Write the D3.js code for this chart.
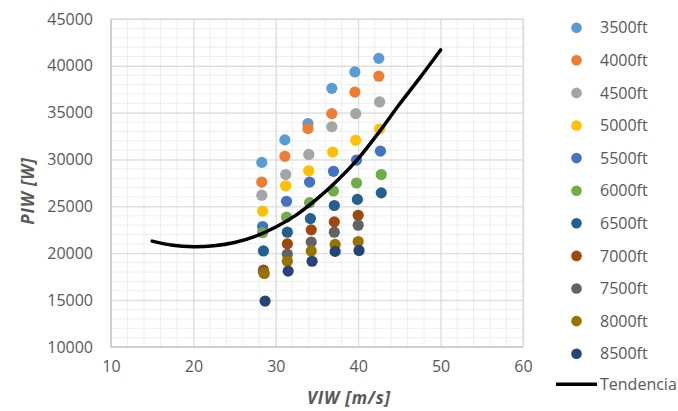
<!DOCTYPE html>
<html>
<head>
<meta charset="utf-8">
<script src="https://cdn.jsdelivr.net/npm/d3@7"></script>
<style>
  body { margin: 0; background: #fff; }
  svg text { font-family: "Open Sans", "Liberation Sans", sans-serif; fill: #595959; }
</style>
</head>
<body>
<div id="chart"></div>
<script>
// ── Data ──
const seriesNames = ["3500ft", "4000ft", "4500ft", "5000ft", "5500ft", "6000ft",
                     "6500ft", "7000ft", "7500ft", "8000ft", "8500ft"];
const seriesColors = ["#5B9BD5", "#ED7D31", "#A5A5A5", "#FFC000", "#4472C4", "#70AD47",
                      "#255E91", "#9E480E", "#636363", "#997300", "#264478"];

const viw3500 = [28.3, 31.1, 33.9, 36.8, 39.6, 42.5];
const piw3500 = [29700, 32100, 33850, 37600, 39350, 40800];
const viw4000 = [28.3, 31.1, 33.9, 36.8, 39.6, 42.5];
const piw4000 = [27600, 30350, 33300, 34900, 37200, 38900];
const viw4500 = [28.3, 31.2, 34.0, 36.8, 39.7, 42.6];
const piw4500 = [26200, 28400, 30550, 33500, 34900, 36150];
const viw5000 = [28.4, 31.2, 34.0, 36.9, 39.7, 42.6];
const piw5000 = [24500, 27200, 28800, 30800, 32050, 33250];
const viw5500 = [28.4, 31.3, 34.1, 37.0, 39.8, 42.7];
const piw5500 = [22850, 25550, 27600, 28750, 29950, 30900];
const viw6000 = [28.4, 31.3, 34.1, 37.0, 39.8, 42.8];
const piw6000 = [22200, 23850, 25400, 26650, 27500, 28400];
const viw6500 = [28.5, 31.4, 34.2, 37.1, 39.9, 42.8];
const piw6500 = [20250, 22250, 23700, 25100, 25750, 26450];
const viw7000 = [28.5, 31.4, 34.3, 37.1, 40.0];
const piw7000 = [18200, 21000, 22500, 23350, 24050];
const viw7500 = [28.5, 31.4, 34.3, 37.1, 40.0];
const piw7500 = [18000, 19900, 21200, 22250, 23000];
const viw8000 = [28.6, 31.4, 34.3, 37.2, 40.0];
const piw8000 = [17850, 19150, 20250, 20950, 21250];
const viw8500 = [28.7, 31.5, 34.4, 37.2, 40.1];
const piw8500 = [14900, 18100, 19150, 20200, 20300];

const seriesX = [viw3500, viw4000, viw4500, viw5000, viw5500, viw6000,
                 viw6500, viw7000, viw7500, viw8000, viw8500];
const seriesY = [piw3500, piw4000, piw4500, piw5000, piw5500, piw6000,
                 piw6500, piw7000, piw7500, piw8000, piw8500];

// trend line
const trendX = [15, 17.5, 20, 22.5, 25, 27.5, 30, 32.5, 35, 37.5, 40, 42.5, 45, 47.5, 50];
const trendY = [21300, 20850, 20700, 20800, 21150, 21800, 22800, 24100, 25800,
                27800, 30100, 32900, 35900, 38750, 41700];

const xTicks = [10, 20, 30, 40, 50, 60];
const yTicks = [10000, 15000, 20000, 25000, 30000, 35000, 40000, 45000];

// ── Layout ──
const W = 678, H = 411;
const plot = { left: 111, right: 523, top: 19, bottom: 347 };

const svg = d3.select("#chart").append("svg")
    .attr("width", W).attr("height", H);

const x = d3.scaleLinear().domain([10, 60]).range([plot.left, plot.right]);
const y = d3.scaleLinear().domain([10000, 45000]).range([plot.bottom, plot.top]);

// minor grid
const grid = svg.append("g");
grid.selectAll("line.mx").data(d3.range(10, 60.01, 2))
    .join("line")
    .attr("x1", d => x(d)).attr("x2", d => x(d))
    .attr("y1", plot.top).attr("y2", plot.bottom)
    .attr("stroke", "#eeeeee").attr("stroke-width", 1);
grid.selectAll("line.my").data(d3.range(10000, 45001, 1000))
    .join("line")
    .attr("x1", plot.left).attr("x2", plot.right)
    .attr("y1", d => y(d)).attr("y2", d => y(d))
    .attr("stroke", "#eeeeee").attr("stroke-width", 1);

// major grid
const gx = svg.append("g").attr("transform", `translate(0,${plot.top})`)
    .call(d3.axisBottom(x).tickValues(xTicks).tickSize(plot.bottom - plot.top).tickFormat(""));
gx.select(".domain").remove();
gx.selectAll("line").attr("stroke", "#d9d9d9");

const gy = svg.append("g").attr("transform", `translate(${plot.left},0)`)
    .call(d3.axisRight(y).tickValues(yTicks).tickSize(plot.right - plot.left).tickFormat(""));
gy.select(".domain").remove();
gy.selectAll("line").attr("stroke", "#d9d9d9");

// plot border
svg.append("rect")
    .attr("x", plot.left).attr("y", plot.top)
    .attr("width", plot.right - plot.left).attr("height", plot.bottom - plot.top)
    .attr("fill", "none").attr("stroke", "#d9d9d9");
svg.append("line")
    .attr("x1", plot.left).attr("x2", plot.left).attr("y1", plot.top).attr("y2", plot.bottom)
    .attr("stroke", "#bfbfbf");
svg.append("line")
    .attr("x1", plot.left).attr("x2", plot.right).attr("y1", plot.bottom).attr("y2", plot.bottom)
    .attr("stroke", "#bfbfbf");

// tick labels
const xl = svg.append("g").attr("transform", `translate(0,${plot.bottom})`)
    .call(d3.axisBottom(x).tickValues(xTicks).tickSize(0).tickPadding(14));
xl.select(".domain").remove();
xl.selectAll("text").style("font-size", "16px").attr("fill", "#595959");

const yl = svg.append("g").attr("transform", `translate(${plot.left},0)`)
    .call(d3.axisLeft(y).tickValues(yTicks).tickSize(0).tickPadding(18).tickFormat(d3.format("d")));
yl.select(".domain").remove();
yl.selectAll("text").style("font-size", "16px").attr("fill", "#595959");

// axis titles
svg.append("text")
    .attr("x", 349).attr("y", 404)
    .attr("text-anchor", "middle")
    .style("font-size", "17px").style("font-weight", "bold").style("font-style", "italic")
    .style("letter-spacing", "0.8px")
    .text("VIW [m/s]");
svg.append("text")
    .attr("transform", "translate(34,191) rotate(-90)")
    .attr("text-anchor", "middle")
    .style("font-size", "17px").style("font-weight", "bold").style("font-style", "italic")
    .style("letter-spacing", "0.8px")
    .text("PIW [W]");

// ── Points ──
const pts = svg.append("g");
seriesNames.forEach((name, i) => {
    const data = seriesX[i].map((v, j) => [v, seriesY[i][j]]);
    pts.append("g").selectAll("circle").data(data)
        .join("circle")
        .attr("cx", d => x(d[0])).attr("cy", d => y(d[1]))
        .attr("r", 5.6)
        .attr("fill", seriesColors[i]);
});

// ── Trend line ──
const trend = trendX.map((v, i) => [v, trendY[i]]);
svg.append("path")
    .datum(trend)
    .attr("fill", "none").attr("stroke", "#000").attr("stroke-width", 3.5)
    .attr("stroke-linecap", "round")
    .attr("d", d3.line().x(d => x(d[0])).y(d => y(d[1])).curve(d3.curveCatmullRom));

// ── Legend ──
const leg = svg.append("g");
const legY0 = 27.7, legStep = 32.6;
seriesNames.forEach((name, i) => {
    const ly = legY0 + i * legStep;
    leg.append("circle").attr("cx", 576.5).attr("cy", ly).attr("r", 5.3).attr("fill", seriesColors[i]);
    leg.append("text").attr("x", 600).attr("y", ly).attr("dy", "0.35em")
        .style("font-size", "16px").text(name);
});
const tY = legY0 + seriesNames.length * legStep - 2;
leg.append("line").attr("x1", 556).attr("x2", 597).attr("y1", tY).attr("y2", tY)
    .attr("stroke", "#000").attr("stroke-width", 3.5);
leg.append("text").attr("x", 600).attr("y", tY).attr("dy", "0.35em")
    .style("font-size", "16px").text("Tendencia");
</script>
</body>
</html>
